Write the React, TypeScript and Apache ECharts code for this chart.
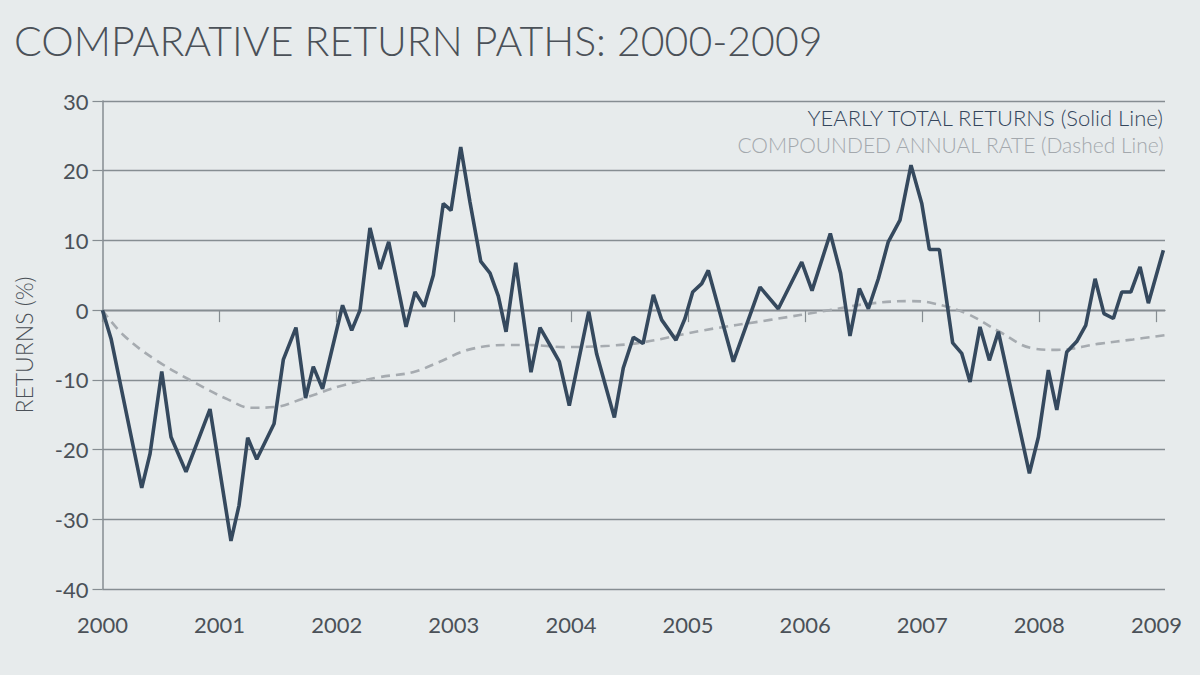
import { useEffect, useRef } from "react";
import * as echarts from "echarts";

// x tick labels
const years = [2000, 2001, 2002, 2003, 2004, 2005, 2006, 2007, 2008, 2009];

// solid line: yearly total returns (decimal year, %)
const solidYears = [
  2000.0, 2000.073, 2000.335, 2000.406, 2000.506, 2000.585, 2000.713, 2000.918,
  2001.097, 2001.166, 2001.24, 2001.317, 2001.465, 2001.544, 2001.652, 2001.734,
  2001.8, 2001.879, 2002.05, 2002.128, 2002.199, 2002.284, 2002.37, 2002.444,
  2002.592, 2002.669, 2002.746, 2002.825, 2002.91, 2002.976, 2003.059, 2003.138,
  2003.23, 2003.309, 2003.38, 2003.446, 2003.529, 2003.659, 2003.736, 2003.821,
  2003.901, 2003.986, 2004.152, 2004.22, 2004.371, 2004.447, 2004.533, 2004.616,
  2004.704, 2004.775, 2004.897, 2004.974, 2005.04, 2005.117, 2005.173, 2005.387,
  2005.615, 2005.771, 2005.971, 2006.059, 2006.215, 2006.303, 2006.383, 2006.463,
  2006.54, 2006.625, 2006.71, 2006.81, 2006.904, 2006.996, 2007.061, 2007.146,
  2007.26, 2007.337, 2007.408, 2007.493, 2007.573, 2007.65, 2007.915, 2007.992,
  2008.077, 2008.149, 2008.234, 2008.319, 2008.396, 2008.476, 2008.552, 2008.632,
  2008.704, 2008.781, 2008.86, 2008.931, 2009.059,
];
const solidReturns = [
  0, -4.1, -25.5, -20.6, -8.8, -18.2, -23.2, -14.2,
  -33.1, -28.0, -18.3, -21.4, -16.3, -7.1, -2.5, -12.6,
  -8.1, -11.3, 0.7, -2.9, 0.0, 11.8, 5.9, 9.8,
  -2.4, 2.6, 0.5, 5.0, 15.3, 14.3, 23.4, 15.5,
  7.0, 5.3, 2.0, -3.1, 6.8, -8.9, -2.5, -5.0,
  -7.4, -13.7, -0.2, -6.3, -15.4, -8.3, -3.9, -4.8,
  2.2, -1.4, -4.3, -1.2, 2.6, 3.8, 5.7, -7.4,
  3.3, 0.2, 6.9, 2.8, 11.0, 5.3, -3.7, 3.1,
  0.2, 4.5, 9.8, 12.9, 20.8, 15.3, 8.7, 8.7,
  -4.7, -6.2, -10.3, -2.4, -7.2, -3.1, -23.4, -18.2,
  -8.6, -14.3, -6.0, -4.5, -2.2, 4.5, -0.5, -1.2,
  2.6, 2.6, 6.2, 1.0, 8.6,
];

// dashed line: compounded annual rate (decimal year, %)
const dashedYears = [
  2000.0, 2000.18, 2000.46, 2000.8, 2001.07, 2001.27, 2001.47, 2001.71,
  2002.05, 2002.37, 2002.65, 2002.88, 2003.12, 2003.45, 2003.65, 2003.94,
  2004.33, 2004.62, 2005.13, 2005.7, 2006.21, 2006.53, 2006.9, 2007.09,
  2007.38, 2007.66, 2007.95, 2008.15, 2008.52, 2008.8, 2009.07,
];
const dashedRates = [
  0, -3.6, -7.2, -10.5, -12.8, -14.0, -13.9, -12.7,
  -10.8, -9.6, -8.9, -7.4, -5.7, -5.0, -5.0, -5.3,
  -5.1, -4.6, -2.9, -1.4, 0, 0.9, 1.3, 1.0,
  -0.5, -3.1, -5.5, -5.7, -4.8, -4.2, -3.6,
];

const FONT = "Lato, 'Noto Sans', sans-serif";
const GRID_GRAY = "#868d92";
const TEXT = "#4b5158";

export default function App() {
  const chartRef = useRef<HTMLDivElement>(null);

  useEffect(() => {
    if (!chartRef.current) return;
    const chart = echarts.init(chartRef.current, null, { renderer: "svg" });

    chart.setOption({
      animation: false,
      backgroundColor: "#E7EBEC",
      textStyle: { fontFamily: FONT },
      title: {
        text: "COMPARATIVE RETURN PATHS: 2000-2009",
        left: 9,
        top: 15,
        textStyle: {
          fontFamily: FONT,
          fontSize: 41,
          fontWeight: 300,
          color: TEXT,
        },
      },
      grid: { left: 102.5, right: 35, top: 101, bottom: 86, containLabel: false },
      xAxis: {
        type: "value",
        min: 2000,
        max: 2009.073,
        interval: 1,
        axisLine: { show: true, lineStyle: { color: GRID_GRAY, width: 1.3 } },
        axisTick: {
          show: true,
          length: 12,
          customValues: years,
          lineStyle: { color: GRID_GRAY, width: 1.2 },
        },
        axisLabel: {
          customValues: years,
          formatter: (v: number) => String(Math.round(v)),
          fontSize: 22,
          color: TEXT,
          margin: 24,
          fontFamily: FONT,
        },
        splitLine: { show: false },
      },
      yAxis: {
        type: "value",
        min: -40,
        max: 30,
        interval: 10,
        name: "RETURNS (%)",
        nameLocation: "middle",
        nameGap: 67,
        nameTextStyle: { fontSize: 23, color: TEXT, fontFamily: FONT, fontWeight: 300 },
        axisLine: { show: true, lineStyle: { color: GRID_GRAY, width: 1.5 } },
        axisTick: { show: true, length: 10, lineStyle: { color: GRID_GRAY, width: 1.2 } },
        axisLabel: { fontSize: 22, color: TEXT, margin: 14, fontFamily: FONT },
        splitLine: {
          show: true,
          lineStyle: {
            color: [
              GRID_GRAY, GRID_GRAY, GRID_GRAY, GRID_GRAY,
              "#5c6268", GRID_GRAY, GRID_GRAY, GRID_GRAY,
            ],
            width: 1.3,
          },
        },
      },
      graphic: [
        {
          type: "text",
          right: 35,
          top: 106,
          style: {
            text: "YEARLY TOTAL RETURNS (Solid Line)",
            fontSize: 22,
            fontFamily: FONT,
            fontWeight: 300,
            fill: "#34465c",
          },
        },
        {
          type: "text",
          right: 35,
          top: 134,
          style: {
            text: "COMPOUNDED ANNUAL RATE (Dashed Line)",
            fontSize: 21,
            fontFamily: FONT,
            fontWeight: 300,
            fill: "#a3a8ad",
          },
        },
      ],
      series: [
        {
          name: "Compounded Annual Rate",
          type: "line",
          data: dashedYears.map((x, i) => [x, dashedRates[i]]),
          smooth: 0.4,
          symbol: "none",
          z: 2,
          lineStyle: { color: "#a6abb0", width: 2.6, type: [9, 6] },
        },
        {
          name: "Yearly Total Returns",
          type: "line",
          data: solidYears.map((x, i) => [x, solidReturns[i]]),
          symbol: "none",
          z: 3,
          lineStyle: { color: "#35495e", width: 3.6 },
        },
      ],
    });

    return () => {
      chart.dispose();
    };
  }, []);

  return (
    <div
      ref={chartRef}
      style={{ position: "absolute", left: 0, top: 0, width: 1200, height: 675 }}
    />
  );
}
